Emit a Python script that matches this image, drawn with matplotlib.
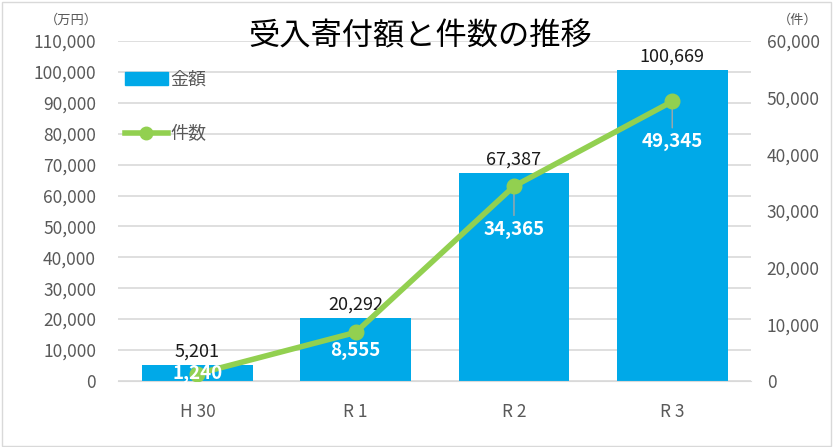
import numpy as np
import matplotlib
matplotlib.use('Agg')
import matplotlib.pyplot as plt
from matplotlib.ticker import FuncFormatter, MultipleLocator
from matplotlib.lines import Line2D
from matplotlib.patches import Patch

plt.rcParams['font.family'] = ['Noto Sans CJK JP', 'DejaVu Sans']

# data
categories = ['H 30', 'R 1', 'R 2', 'R 3']
amount = [5201, 20292, 67387, 100669]   # 金額 (万円)
count = [1240, 8555, 34365, 49345]      # 件数 (件)

bar_color = '#00A9E8'
line_color = '#92D050'
tick_color = '#595959'
comma = FuncFormatter(lambda v, p: f'{int(v):,}')

fig = plt.figure(figsize=(8.33, 4.47), dpi=100)
ax = fig.add_axes([0.142, 0.148, 0.760, 0.760])
ax2 = ax.twinx()

x = np.arange(len(categories))
bars = ax.bar(x, amount, width=0.70, color=bar_color, zorder=2)
ax.set_xlim(-0.5, len(categories) - 0.5)
ax.set_ylim(0, 110000)
ax.yaxis.set_major_locator(MultipleLocator(10000))
ax.yaxis.set_major_formatter(comma)
ax.grid(axis='y', color='#d9d9d9', linewidth=1.2, zorder=0)
ax.set_axisbelow(True)

ax2.plot(x, count, color=line_color, linewidth=4, marker='o', markersize=10.5,
         zorder=5)
ax2.set_ylim(0, 60000)
ax2.yaxis.set_major_locator(MultipleLocator(10000))
ax2.yaxis.set_major_formatter(comma)

for a in (ax, ax2):
    for s in a.spines.values():
        s.set_visible(False)
    a.tick_params(length=0, labelsize=12.5, colors=tick_color)
ax.spines['bottom'].set_visible(True)
ax.spines['bottom'].set_color('#d9d9d9')
ax.set_xticks(x)
ax.set_xticklabels(categories, fontsize=12.5, color=tick_color)
ax.tick_params(axis='x', pad=16)
ax.tick_params(axis='y', pad=16)
ax2.tick_params(axis='y', pad=11)

# amount labels above bars
for xi, v in zip(x, amount):
    ax.annotate(f'{v:,}', (xi, v), xytext=(0, 3), textcoords='offset points',
                ha='center', va='bottom', fontsize=13, color='#1a1a1a')

# count labels inside bars (offsets in points from the marker)
offsets = [0, -13, -31, -29]
for xi, v, off in zip(x, count, offsets):
    if off < -20:
        ax2.annotate('', (xi, v), xytext=(0, off + 10), textcoords='offset points',
                     arrowprops=dict(arrowstyle='-', color='#a6a6a6', lw=1,
                                     shrinkA=0, shrinkB=0))
    ax2.annotate(f'{v:,}', (xi, v), xytext=(0, off), textcoords='offset points',
                 ha='center', va='center', fontsize=13.5, color='white',
                 fontweight='bold', zorder=6)

# legend
handles = [Patch(color=bar_color), Line2D([0], [0], color=line_color, lw=4,
                                          marker='o', markersize=9)]
leg = ax.legend(handles, ['金額', '件数'], loc='upper left',
                bbox_to_anchor=(-0.01, 0.95), frameon=False, fontsize=13,
                labelspacing=2.0, handlelength=2.4, handletextpad=0.15,
                borderaxespad=0.3)
for t in leg.get_texts():
    t.set_color(tick_color)

fig.text(0.505, 0.918, '受入寄付額と件数の推移', ha='center', va='center',
         fontsize=22.5, color='black')
fig.text(0.118, 0.955, '（万円）', ha='right', va='center', fontsize=9.5,
         color=tick_color)
fig.text(0.958, 0.955, '（件）', ha='center', va='center', fontsize=9.5,
         color=tick_color)

fig.patches.append(plt.Rectangle((0.002, 0.002), 0.996, 0.994, fill=False,
                                 edgecolor='#d9d9d9', lw=1,
                                 transform=fig.transFigure))

fig.savefig('out.png', dpi=100)
